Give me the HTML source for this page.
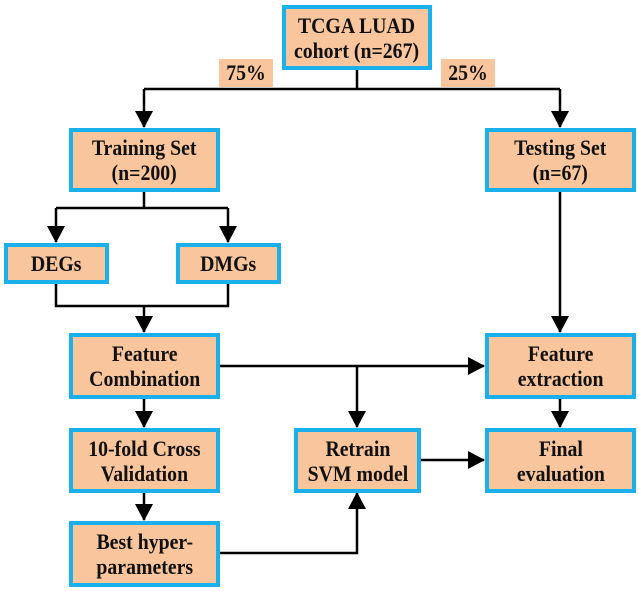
<!DOCTYPE html>
<html><head><style>
body{margin:0;background:#fff}
.b{position:absolute;box-sizing:border-box;background:#f8c59c;border:4px solid #1ab0ec;display:flex;align-items:center;justify-content:center;text-align:center;font-family:"Liberation Serif","Times New Roman","DejaVu Serif",serif;font-weight:bold;font-size:22px;line-height:25px;color:#111;white-space:nowrap}
.l{position:absolute;background:#f8c59c;font-family:"Liberation Serif","Times New Roman","DejaVu Serif",serif;font-weight:bold;font-size:22px;display:flex;align-items:center;justify-content:center;color:#111}
.t{display:inline-block;transform:scaleX(0.9)}
</style></head><body>
<svg width="638" height="591" style="position:absolute;left:0;top:0">
<defs>
<marker id="m" markerWidth="18" markerHeight="18" refX="16" refY="9" orient="auto" markerUnits="userSpaceOnUse"><path d="M0,0L17,9L0,18z" fill="#000"/></marker></defs>
<g stroke="#000" stroke-width="2.5" fill="none">
<path d="M357,69V89M144,89H560"/>
<path d="M144,89V127" marker-end="url(#m)"/>
<path d="M560,89V127" marker-end="url(#m)"/>
<path d="M144,191V208M56,208H228"/>
<path d="M56,208V242" marker-end="url(#m)"/>
<path d="M228,208V242" marker-end="url(#m)"/>
<path d="M56,283V306H228V283"/>
<path d="M144,306V332" marker-end="url(#m)"/>
<path d="M560,191V332" marker-end="url(#m)"/>
<path d="M219,366H484" marker-end="url(#m)"/>
<path d="M357,366V427" marker-end="url(#m)"/>
<path d="M144,399V427" marker-end="url(#m)"/>
<path d="M560,399V427" marker-end="url(#m)"/>
<path d="M144,492V520" marker-end="url(#m)"/>
<path d="M420,460H484" marker-end="url(#m)"/>
<path d="M219,553H357V493" marker-end="url(#m)"/>
</g></svg>
<div class="b" style="left:282px;top:5px;width:150px;height:65px"><span class="t">TCGA LUAD<br>cohort (n=267)</span></div>
<div class="l" style="left:219px;top:59px;width:54px;height:28px"><span class="t">75%</span></div>
<div class="l" style="left:441px;top:59px;width:54px;height:28px"><span class="t">25%</span></div>
<div class="b" style="left:69px;top:128px;width:151px;height:64px"><span class="t">Training Set<br>(n=200)</span></div>
<div class="b" style="left:485px;top:128px;width:151px;height:64px"><span class="t">Testing Set<br>(n=67)</span></div>
<div class="b" style="left:4px;top:243px;width:105px;height:41px"><span class="t">DEGs</span></div>
<div class="b" style="left:176px;top:243px;width:105px;height:41px"><span class="t">DMGs</span></div>
<div class="b" style="left:69px;top:333px;width:151px;height:66px"><span class="t">Feature<br>Combination</span></div>
<div class="b" style="left:485px;top:333px;width:151px;height:66px"><span class="t">Feature<br>extraction</span></div>
<div class="b" style="left:69px;top:428px;width:151px;height:65px"><span class="t">10-fold Cross<br>Validation</span></div>
<div class="b" style="left:294px;top:428px;width:127px;height:65px"><span class="t">Retrain<br>SVM model</span></div>
<div class="b" style="left:485px;top:428px;width:151px;height:65px"><span class="t">Final<br>evaluation</span></div>
<div class="b" style="left:69px;top:521px;width:151px;height:66px"><span class="t">Best hyper-<br>parameters</span></div>
</body></html>
